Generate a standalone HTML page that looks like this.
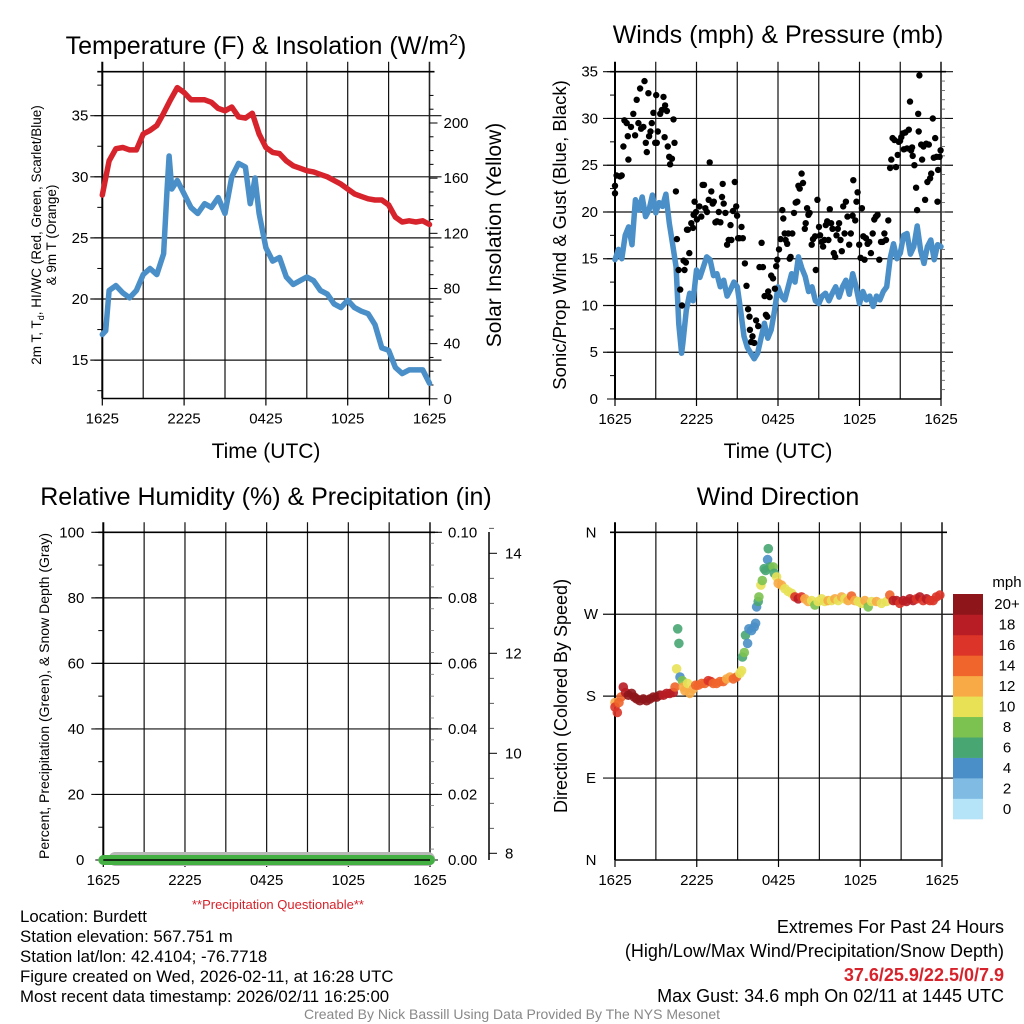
<!DOCTYPE html>
<html><head><meta charset="utf-8"><title>Burdett Meteogram</title>
<style>
html,body{margin:0;padding:0;background:#fff}
svg{display:block;font-family:"Liberation Sans",Arial,sans-serif}
</style></head>
<body>
<svg id="fig" width="1024" height="1024" viewBox="0 0 1024 1024" xmlns="http://www.w3.org/2000/svg">
<rect x="0" y="0" width="1024" height="1024" fill="#fff"/>
<g id="layer"></g>
</svg>
<script>
// ---------- DATA ----------
const timeLabels = ["1625","2225","0425","1025","1625"];
const tempHours = [0,0.5,1,1.5,2,2.5,3,3.5,4,4.5,5,5.5,6,6.5,7,7.5,8,8.5,9,9.5,10,10.5,11,11.5,12,12.5,13,13.5,14,14.5,15,15.5,16,16.5,17,17.5,18,18.5,19,19.5,20,20.5,21,21.5,22,22.5,23,23.5,24];
const tempF = [28.5,31.3,32.3,32.4,32.2,32.2,33.5,33.8,34.2,35.2,36.3,37.3,36.9,36.3,36.3,36.3,36.1,35.6,35.4,35.7,34.9,34.8,35.2,33.5,32.4,32.0,31.9,31.3,30.9,30.7,30.5,30.4,30.2,30.0,29.7,29.4,29.0,28.6,28.4,28.2,28.1,28.1,27.7,26.7,26.3,26.4,26.3,26.4,26.1];
const dewHours = [0,0.25,0.5,1,1.5,2,2.5,3,3.5,4,4.5,4.75,4.9,5.1,5.5,6,6.5,7,7.5,8,8.5,9,9.5,10,10.5,10.85,11,11.2,11.5,12,12.5,13,13.5,14,14.5,15,15.5,16,16.5,17,17.5,18,18.5,19,19.5,20,20.5,21,21.5,22,22.5,23,23.5,24];
const dewF = [17.1,17.4,20.7,21.1,20.5,20.1,20.7,22.0,22.5,22.0,23.7,29.0,31.7,29.0,29.7,28.6,27.5,27.0,27.8,27.5,28.3,27.0,30.0,31.1,30.8,27.8,28.6,29.9,27.0,24.2,23.1,23.4,21.8,21.2,21.5,21.8,21.5,20.7,20.4,19.6,19.3,19.9,19.3,19.0,18.8,17.9,16.0,15.8,14.4,13.9,14.2,14.2,14.2,13.1];
const tempTicks = [15,20,25,30,35];
const solarTicks = [0,40,80,120,160,200];

const windHours = [0,0.25,0.5,0.75,1,1.25,1.5,1.75,2,2.25,2.5,2.75,3,3.25,3.5,3.75,4,4.25,4.5,4.7,4.9,5,5.25,5.5,5.75,6,6.25,6.5,6.75,7,7.25,7.5,7.75,8,8.25,8.5,8.75,9,9.25,9.5,9.75,10,10.25,10.5,10.75,11,11.25,11.5,11.75,12,12.25,12.5,12.75,13,13.25,13.5,13.75,14,14.25,14.5,14.75,15,15.25,15.5,15.75,16,16.25,16.5,16.75,17,17.25,17.5,17.75,18,18.25,18.5,18.75,19,19.25,19.5,19.75,20,20.25,20.5,20.75,21,21.25,21.5,21.75,22,22.25,22.5,22.75,23,23.25,23.5,23.75,24];
const windMph = [14.9,16.0,15.0,17.5,18.4,16.5,21.3,20.2,21.6,19.5,20.2,21.8,19.9,21.0,20.6,21.9,18.8,16.5,14.1,8.0,4.9,6.0,9.5,11.3,10.5,13.8,13.0,14.1,15.2,14.9,13.2,13.4,12.0,12.7,11.0,11.7,12.5,12.0,9.5,6.7,5.5,4.9,4.3,4.9,6.5,8.1,6.5,7.4,9.5,12.0,11.0,10.6,12.0,13.4,12.5,15.2,14.0,13.1,11.5,12.0,10.5,10.2,11.0,11.3,10.5,11.3,12.0,10.9,12.0,12.7,11.2,13.4,12.0,10.2,11.5,10.6,11.0,9.9,11.0,10.6,11.5,12.0,15.0,16.6,15.0,15.6,17.5,17.7,15.5,16.3,18.5,15.9,14.5,16.3,17.0,14.9,16.5,16.3];
const gustHours = [0,0,0.12,0.37,0.49,0.62,0.69,0.86,0.94,0.99,1.18,1.35,1.48,1.6,1.72,1.85,1.92,2.17,2.09,2.27,2.34,2.46,2.51,2.61,2.71,2.83,2.96,3.03,3.08,3.15,3.33,3.45,3.57,3.65,3.69,3.82,3.89,3.99,4.06,4.19,4.31,4.38,4.48,
4.56,4.68,4.8,4.93,5.05,5.12,5.22,5.3,5.37,5.47,5.62,5.74,5.79,5.86,5.96,6.03,6.21,6.35,6.45,6.55,6.65,6.77,6.9,6.97,7.09,7.19,7.27,7.39,7.51,7.64,7.76,7.88,7.93,8.0,8.13,8.25,8.37,8.5,8.57,8.69,8.82,8.92,8.99,9.06,9.16,9.31,9.41,
9.56,9.68,9.8,9.9,9.93,10.02,10.12,10.25,10.39,10.54,10.64,10.79,10.89,11.01,11.11,11.21,11.28,11.38,11.5,11.63,11.77,11.87,11.95,12.07,12.19,12.32,12.39,12.49,12.56,12.68,12.76,12.86,12.93,13.05,13.18,13.3,13.42,13.5,13.6,13.74,13.84,13.97,14.04,14.14,14.24,14.33,14.48,14.58,14.73,14.78,14.9,15.02,15.1,15.22,15.32,15.42,15.52,15.62,15.71,15.81,15.91,16.01,16.11,16.21,16.31,16.4,16.5,16.6,16.7,16.8,16.9,17.0,17.12,17.24,17.36,17.49,17.54,17.68,17.78,17.86,17.98,18.08,18.18,18.28,18.37,18.47,18.6,18.72,18.84,18.97,19.09,19.21,19.33,19.46,19.58,19.7,19.83,19.95,20.12,
20.25,20.34,20.44,20.57,20.69,20.81,20.89,20.99,21.08,21.18,21.26,21.38,21.5,21.63,21.72,21.8,21.87,21.92,22.04,22.17,22.24,22.32,22.36,22.41,22.54,22.61,22.71,22.83,22.91,23.0,23.1,23.2,23.28,23.4,23.47,23.57,23.67,23.74,23.79,23.89,23.97];
const gustMph = [22.8,22.0,23.9,23.8,23.9,27.0,29.8,29.5,28.1,25.6,29.1,30.5,28.2,32.0,29.5,33.2,28.9,34.0,29.1,27.4,26.4,32.7,28.1,28.6,29.5,30.6,27.4,32.5,27.4,28.6,30.5,30.9,32.3,28.0,31.4,30.8,27.0,25.9,25.1,25.7,29.9,27.4,22.2,
17.1,13.8,11.7,10.0,14.8,13.8,14.6,18.1,18.1,15.6,18.8,18.3,19.7,21.1,20.0,19.2,20.6,19.5,22.9,22.9,20.4,20.0,21.3,25.3,22.2,20.9,21.1,18.9,19.0,20.0,18.9,21.6,23.0,20.9,19.9,16.5,17.0,18.6,17.0,20.1,23.2,20.6,19.6,17.2,17.2,18.4,17.2,
14.5,12.1,9.6,8.8,7.4,6.1,6.7,6.0,8.4,7.8,14.1,16.7,14.1,11.0,9.0,8.8,11.5,10.9,13.2,12.9,11.8,14.2,14.9,16.0,17.1,20.2,19.3,17.7,17.0,16.6,17.7,15.0,15.2,17.7,19.9,21.0,21.1,22.8,22.5,24.1,23.1,18.2,18.8,20.4,19.7,19.9,16.5,17.1,17.4,13.8,21.3,18.4,17.5,16.8,16.3,17.0,18.6,19.0,17.0,20.3,18.8,18.2,15.6,15.2,17.5,18.2,18.8,17.0,15.8,20.6,17.7,21.1,19.5,16.5,17.7,19.6,23.4,19.1,21.1,22.1,16.5,15.1,20.4,17.4,14.9,17.2,16.6,16.8,15.6,17.7,19.2,19.5,19.7,14.9,16.8,16.8,17.7,17.0,19.1,
24.7,25.6,27.9,27.7,24.8,26.1,27.5,27.6,28.0,28.4,26.7,28.5,26.8,28.8,31.8,26.6,26.9,26.0,25.0,22.6,20.2,30.5,28.6,34.6,27.2,25.6,27.0,21.3,27.3,23.2,27.2,23.6,24.1,30.0,25.8,27.9,25.9,21.1,24.5,25.9,26.6];
const windTicks = [0,5,10,15,20,25,30,35];

const dirHours = [0,0,0.17,0.29,0.44,0.61,0.78,0.98,1.22,1.42,1.59,1.83,2.08,2.32,2.57,2.81,3.06,3.3,3.55,3.79,4.03,4.28,4.4,4.52,4.6,4.69,4.77,4.94,5.01,5.13,5.33,5.5,5.75,5.92,6.11,6.36,6.6,6.85,7.04,7.21,7.46,7.7,7.95,8.19,8.44,8.68,8.92,9.17,9.29,9.36,9.49,9.58,9.73,9.83,10.02,10.22,10.32,10.39,10.51,10.56,10.71,10.81,10.95,11.05,11.2,11.25,11.37,11.61,11.69,11.86,11.98,12.22,12.47,12.71,12.96,13.2,13.45,13.69,13.94,14.18,14.43,14.67,14.91,15.16,15.4,15.65,15.89,16.14,16.38,16.63,16.87,17.11,17.36,17.6,17.85,18.09,18.34,18.58,18.83,19.19,19.56,19.93,20.17,20.42,20.66,20.9,21.15,21.39,21.64,21.88,22.13,22.37,22.62,22.86,23.11,23.35,23.59,23.84];
const dirDeg = [173,168,162,173,179,190,184,181,183,179,177,175,177,175,177,179,179,181,181,183,183,184,190,210,254,238,201,197,190,186,194,183,188,192,192,194,194,197,196,194,194,196,196,199,201,199,201,205,208,223,228,247,238,254,252,256,260,278,284,289,302,307,320,318,330,342,322,322,315,311,304,302,298,295,293,289,287,289,287,284,285,280,284,287,284,285,285,287,285,289,287,285,290,285,284,282,285,278,284,284,282,284,291,285,285,282,285,284,287,285,287,289,285,287,285,285,289,291];
const dirSpeed = [13,16,16,14,14,18,18,20,20,20,20,20,20,20,20,20,20,20,18,18,18,18,14,10,6,6,4,8,12,12,10,12,12,14,14,14,14,16,16,14,14,14,14,12,12,14,14,10,10,6,8,6,4,4,4,4,4,4,6,8,10,8,6,6,4,6,6,8,6,10,12,12,10,10,10,16,18,16,12,12,10,8,10,10,10,12,10,12,10,12,10,12,14,12,10,10,12,8,10,12,10,10,14,18,18,16,18,18,18,18,16,18,16,18,16,16,16,16];
const dirLabels = ["N","E","S","W","N"];
const speedBins = ["0","2","4","6","8","10","12","14","16","18","20+"];
const speedColors = ["#b5e3f7","#7fbbe3","#4a8fc7","#48a673","#7cc250","#e8e156","#f7aa45","#f0652b","#dc3428","#b81c24","#8e161b"];

const rhTicks = [0,20,40,60,80,100];
const precipTicks = ["0.00","0.02","0.04","0.06","0.08","0.10"];
const snowTicks = [8,10,12,14];
const rhHours = [0,24];
const precipVals = [0,0];

// ---------- HELPERS ----------
const NS="http://www.w3.org/2000/svg";
const layer=document.getElementById('layer');
function mk(tag,attrs,parent){const e=document.createElementNS(NS,tag);for(const k in attrs)e.setAttribute(k,attrs[k]);(parent||layer).appendChild(e);return e;}
function txt(s,x,y,size,anchor,extra,parent){const t=mk('text',Object.assign({x:x,y:y,'font-size':size,'text-anchor':anchor||'middle',fill:'#000'},extra||{}),parent);t.textContent=s;return t;}

const P1={L:102.3,R:429.5,T:71.7,B:398.5};
const P2={L:615,R:941,T:71.7,B:399};
const P3={L:103.3,R:430,T:532.3,B:860};
const P4={L:615,R:942,T:532.3,B:860};
function xScale(P){return h=>P.L+h*(P.R-P.L)/24;}
function yScale(P,v0,v1){return v=>P.B-(v-v0)*(P.B-P.T)/(v1-v0);}

function gridAndFrame(P,name,ys){
  const g=mk('g',{});
  
  
  const xs=xScale(P);
  for(let h=3;h<24;h+=3){mk('line',{x1:xs(h),x2:xs(h),y1:P.T-10,y2:P.B,stroke:'#111','stroke-width':1.2},g);}
  ys.forEach(y=>mk('line',{x1:P.L-12,x2:P.R+12,y1:y,y2:y,stroke:'#111','stroke-width':1.2},g));
  mk('line',{x1:P.L,x2:P.L,y1:P.T-10,y2:P.B,stroke:'#000','stroke-width':2},g);
  mk('line',{x1:P.R,x2:P.R,y1:P.T-10,y2:P.B,stroke:'#222','stroke-width':1.6},g);
  mk('line',{x1:P.L,x2:P.R,y1:P.B,y2:P.B,stroke:'#000','stroke-width':1.6},g);
  mk('line',{x1:P.L-5,x2:P.R+5,y1:P.T,y2:P.T,stroke:'#000','stroke-width':1.6},g);
  timeLabels.forEach((l,i)=>{
    mk('line',{x1:xs(i*6),x2:xs(i*6),y1:P.B,y2:P.B+7,stroke:'#000','stroke-width':1.2},g);
    const t=txt(l,xs(i*6),P.B+25,15,'middle',{},g);
    
    
  });
}

// ---------- PANEL 1 ----------
(function(){
  const P=P1,xs=xScale(P),ys=yScale(P,11.86,38.6),ysol=v=>398.8-v*(398.8-123)/200;
  gridAndFrame(P,'temperature',tempTicks.map(ys));
  const g=mk('g',{});
  tempTicks.forEach(v=>{mk('line',{x1:P.L-8,x2:P.L,y1:ys(v),y2:ys(v),stroke:'#000'},g);const t=txt(String(v),P.L-14,ys(v)+5,15,'end',{},g);});
  for(let v=12.5;v<38.6;v+=5)mk('line',{x1:P.L-5,x2:P.L,y1:ys(v),y2:ys(v),stroke:'#000'},g);
  solarTicks.forEach(v=>{mk('line',{x1:P.R,x2:P.R+8,y1:ysol(v),y2:ysol(v),stroke:'#000'},g);const t=txt(String(v),P.R+14,ysol(v)+5,15,'start',{},g);});
  for(let v=10;v<230;v+=10){if(v%40)mk('line',{x1:P.R,x2:P.R+4,y1:ysol(v),y2:ysol(v),stroke:'#000'},g);}
  let d='';dewHours.forEach((h,i)=>{d+=(i?'L':'M')+xs(h).toFixed(1)+','+ys(dewF[i]).toFixed(1);});
  const dl=mk('path',{d:d,fill:'none',stroke:'#4a8fc7','stroke-width':5.5,'stroke-linejoin':'round','stroke-linecap':'round'});
  
  
  d='';tempHours.forEach((h,i)=>{d+=(i?'L':'M')+xs(h).toFixed(1)+','+ys(tempF[i]).toFixed(1);});
  const tl=mk('path',{d:d,fill:'none',stroke:'#d7232b','stroke-width':5.5,'stroke-linejoin':'round','stroke-linecap':'round'});
  
  
})();

// ---------- PANEL 2 ----------
(function(){
  const P=P2,xs=xScale(P),ys=yScale(P,0,35);
  gridAndFrame(P,'winds',windTicks.slice(1).map(ys));
  const g=mk('g',{});
  windTicks.forEach(v=>{mk('line',{x1:P.L-8,x2:P.L,y1:ys(v),y2:ys(v),stroke:'#000'},g);const t=txt(String(v),P.L-17,ys(v)+5,15,'end',{},g);});
  for(let v=2.5;v<35;v+=5)mk('line',{x1:P.L-5,x2:P.L,y1:ys(v),y2:ys(v),stroke:'#000'},g);
  for(let v=1;v<35;v+=1)mk('line',{x1:P.R,x2:P.R+4,y1:ys(v),y2:ys(v),stroke:'#555','stroke-width':0.8},g);
  let d='';windHours.forEach((h,i)=>{d+=(i?'L':'M')+xs(h).toFixed(1)+','+ys(windMph[i]).toFixed(1);});
  const wl=mk('path',{d:d,fill:'none',stroke:'#4a8fc7','stroke-width':5.5,'stroke-linejoin':'round','stroke-linecap':'round'});
  
  
  gustHours.forEach((h,i)=>{
    const c=mk('circle',{cx:xs(h).toFixed(1),cy:ys(gustMph[i]).toFixed(1),r:3.2,fill:'#000'});
    
    
  });
})();

// ---------- PANEL 3 ----------
(function(){
  const P=P3,xs=xScale(P),ys=yScale(P,0,100),ysn=v=>853.3-(v-8)*50;
  gridAndFrame(P,'humidity',rhTicks.slice(1).map(ys));
  const g=mk('g',{});
  rhTicks.forEach(v=>{mk('line',{x1:P.L-8,x2:P.L,y1:ys(v),y2:ys(v),stroke:'#000'},g);const t=txt(String(v),P.L-19,ys(v)+5,15,'end',{},g);});
  for(let v=10;v<100;v+=20)mk('line',{x1:P.L-5,x2:P.L,y1:ys(v),y2:ys(v),stroke:'#000'},g);
  precipTicks.forEach((s,i)=>{const y=ys(i*20);mk('line',{x1:P.R,x2:P.R+8,y1:y,y2:y,stroke:'#000'},g);const t=txt(s,P.R+18,y+5,15,'start',{},g);});
  for(let v=3.33;v<100;v+=6.667)mk('line',{x1:P.R,x2:P.R+4,y1:ys(v),y2:ys(v),stroke:'#777','stroke-width':0.8},g);
  mk('line',{x1:489,x2:489,y1:532,y2:860,stroke:'#000','stroke-width':1.5},g);
  snowTicks.forEach(v=>{mk('line',{x1:489,x2:497,y1:ysn(v),y2:ysn(v),stroke:'#000'},g);const t=txt(String(v),505,ysn(v)+5,15,'start',{},g);});
  for(let v=8.5;v<14.8;v+=0.5){if(v%2)mk('line',{x1:489,x2:494,y1:ysn(v),y2:ysn(v),stroke:'#333','stroke-width':0.8},g);}
  const sb=mk('line',{x1:xs(rhHours[0])+12,x2:xs(rhHours[1])-2,y1:ys(precipVals[0])-1,y2:ys(precipVals[1])-1,stroke:'#b8b8b8','stroke-width':14,'stroke-linecap':'round'});
  
  
  const pl=mk('line',{x1:xs(rhHours[0]),x2:xs(rhHours[1]),y1:ys(precipVals[0]),y2:ys(precipVals[1]),stroke:'#44b044','stroke-width':10,'stroke-linecap':'round'});
  
  
  mk('line',{x1:P.L,x2:P.R,y1:P.B,y2:P.B,stroke:'#000','stroke-width':1.5});
})();

// ---------- PANEL 4 ----------
(function(){
  const P=P4,xs=xScale(P),ys=yScale(P,0,360);
  gridAndFrame(P,'wind-direction',[90,180,270].map(ys));
  const g=mk('g',{});
  dirLabels.forEach((l,i)=>{const t=txt(l,P.L-24,ys(i*90)+5,15,'middle',{},g);});
  dirHours.forEach((h,i)=>{
    const bi=Math.min(10,Math.floor(dirSpeed[i]/2));
    const c=mk('circle',{cx:xs(h).toFixed(1),cy:ys(dirDeg[i]).toFixed(1),r:4.8,fill:speedColors[bi],'fill-opacity':0.9});
    
    
  });
  const cb=mk('g',{});
  
  
  const bh=225/11;
  speedBins.forEach((s,i)=>{
    const y=819-(i+1)*bh;
    mk('rect',{x:953,y:y,width:30,height:bh+0.3,fill:speedColors[i]},cb);
    txt(s,1007,y+bh/2+5,15,'middle',{},cb);
  });
  txt('mph',1007,587,15,'middle',{},cb);
})();

// ---------- TITLES & TEXT ----------
function named(t,n){return t;}
const t1=txt('',266,54,25,'middle');t1.innerHTML='Temperature (F) &amp; Insolation (W/m<tspan dy="-9" font-size="16">2</tspan><tspan dy="9">)</tspan>';named(t1,'temperature-title');
named(txt('Winds (mph) & Pressure (mb)',778,43,25),'winds-title');
named(txt('Relative Humidity (%) & Precipitation (in)',266,505,25),'humidity-title');
named(txt('Wind Direction',778,505,25),'direction-title');
named(txt('Time (UTC)',266,458,21),'temp-x-title');
named(txt('Time (UTC)',778,458,21),'wind-x-title');
const yl=txt('',0,0,13.5,'middle',{transform:'translate(41,235) rotate(-90)'});yl.innerHTML='2m T, T<tspan dy="3" font-size="9">d</tspan><tspan dy="-3">, HI/WC (Red, Green, Scarlet/Blue)</tspan>';named(yl,'temp-y-title');
named(txt('& 9m T (Orange)',0,0,13.5,'middle',{transform:'translate(56,235) rotate(-90)'}),'temp-y-title-2');
named(txt('Solar Insolation (Yellow)',0,0,21,'middle',{transform:'translate(501,235) rotate(-90)'}),'solar-y-title');
named(txt('Sonic/Prop Wind & Gust (Blue, Black)',0,0,18.5,'middle',{transform:'translate(566,235) rotate(-90)'}),'wind-y-title');
named(txt('Percent, Precipitation (Green), & Snow Depth (Gray)',0,0,14,'middle',{transform:'translate(49,696) rotate(-90)'}),'rh-y-title');
named(txt('Direction (Colored By Speed)',0,0,18,'middle',{transform:'translate(567,696) rotate(-90)'}),'direction-y-title');
named(txt('**Precipitation Questionable**',278,909,13,'middle',{fill:'#d7232b'}),'precip-warning');
const info=['Location: Burdett','Station elevation: 567.751 m','Station lat/lon: 42.4104; -76.7718','Figure created on Wed, 2026-02-11, at 16:28 UTC','Most recent data timestamp: 2026/02/11 16:25:00'];
info.forEach((s,i)=>named(txt(s,20,922+i*20,16.8,'start'),'station-info-line'));
named(txt('Extremes For Past 24 Hours',1004,933,18,'end'),'extremes-title');
named(txt('(High/Low/Max Wind/Precipitation/Snow Depth)',1004,957,18,'end'),'extremes-subtitle');
named(txt('37.6/25.9/22.5/0/7.9',1004,981,18,'end',{fill:'#d7232b','font-weight':'bold'}),'extremes-values');
named(txt('Max Gust: 34.6 mph On 02/11 at 1445 UTC',1004,1002,18,'end'),'max-gust');
named(txt('Created By Nick Bassill Using Data Provided By The NYS Mesonet',512,1019,14,'middle',{fill:'#888'}),'credit-line');
</script>
</body></html>
